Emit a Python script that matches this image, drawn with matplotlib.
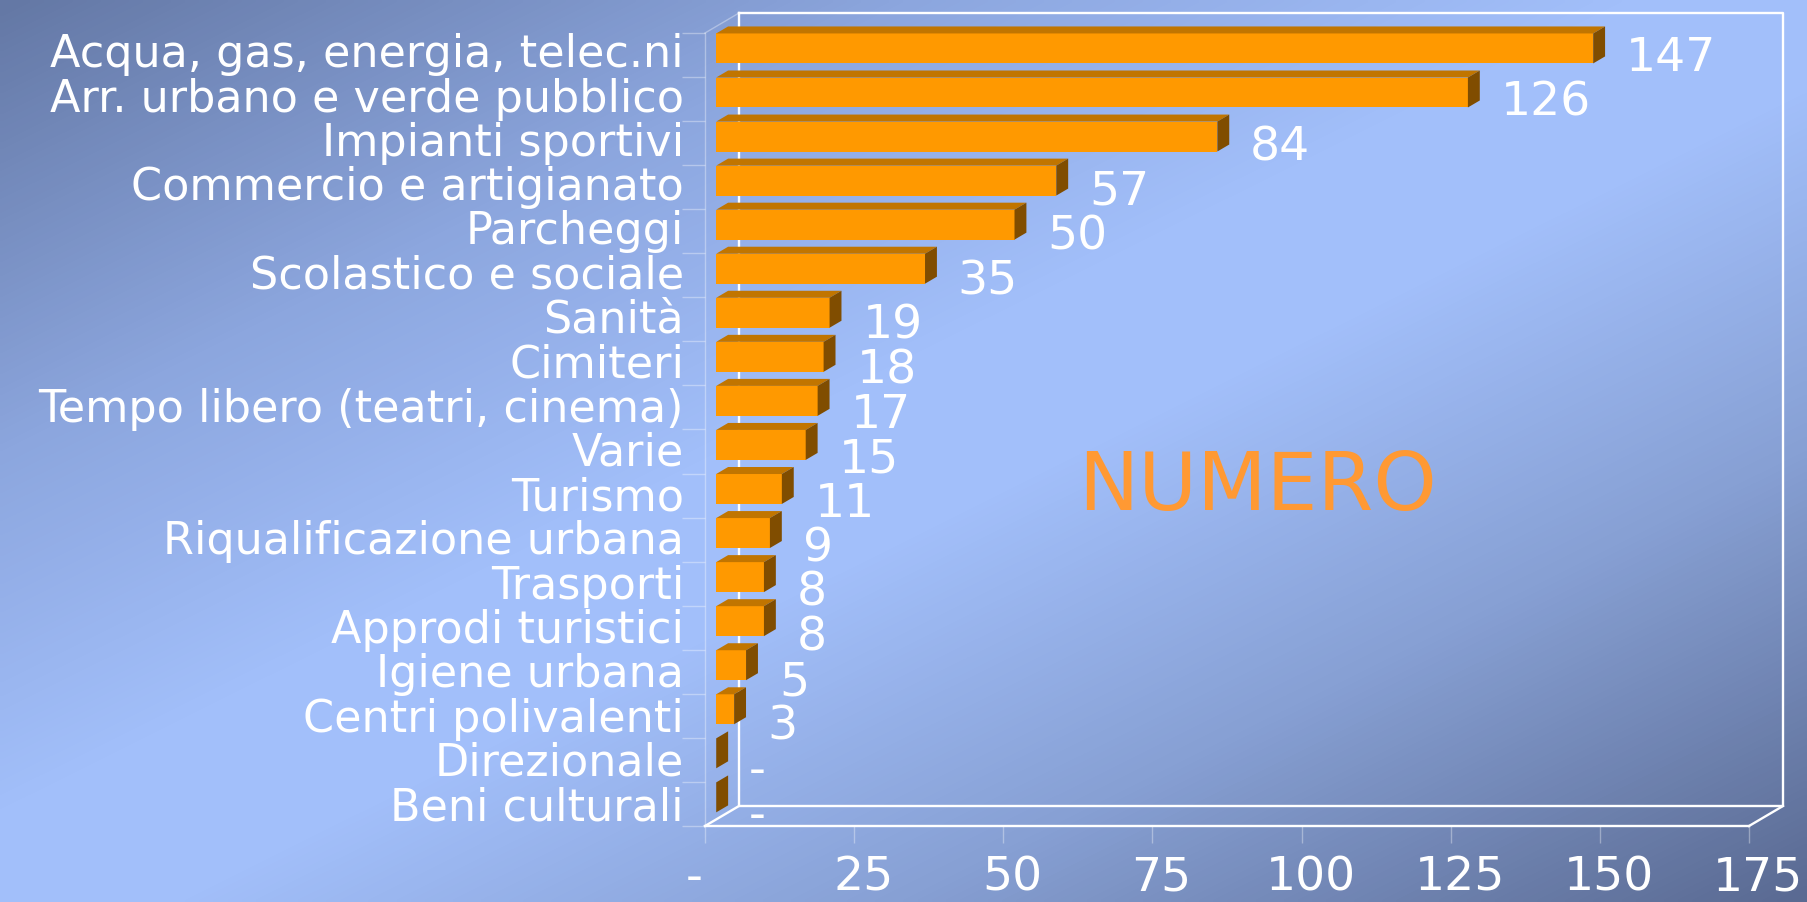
import numpy as np
import matplotlib
matplotlib.use("Agg")
import matplotlib.pyplot as plt
from matplotlib.patches import Polygon
from matplotlib.colors import LinearSegmentedColormap
from matplotlib.transforms import ScaledTranslation

# ---------------- data ----------------
categories = [
    "Acqua, gas, energia, telec.ni",
    "Arr. urbano e verde pubblico",
    "Impianti sportivi",
    "Commercio e artigianato",
    "Parcheggi",
    "Scolastico e sociale",
    "Sanità",
    "Cimiteri",
    "Tempo libero (teatri, cinema)",
    "Varie",
    "Turismo",
    "Riqualificazione urbana",
    "Trasporti",
    "Approdi turistici",
    "Igiene urbana",
    "Centri polivalenti",
    "Direzionale",
    "Beni culturali",
]
values = [147, 126, 84, 57, 50, 35, 19, 18, 17, 15, 11, 9, 8, 8, 5, 3, 0, 0]
x_ticks = [0, 25, 50, 75, 100, 125, 150, 175]
x_tick_labels = ["-", "25", "50", "75", "100", "125", "150", "175"]
series_name = "NUMERO"

# ---------------- style ----------------
W, H, DPI = 1807, 902, 100
plt.rcParams['font.family'] = ['DejaVu Sans']
FRONT = "#FF9900"
TOP = "#C17500"
SIDE = "#804D00"
WHITE = "white"
FAINT = (1, 1, 1, 0.35)

fig = plt.figure(figsize=(W / DPI, H / DPI), dpi=DPI)

# background gradient (diagonal)
bg = fig.add_axes([0, 0, 1, 1], zorder=-10)
bg.set_axis_off()
gx, gy = np.meshgrid(np.linspace(0, 1, 400), np.linspace(0, 1, 200))
t = (gx + gy) / 2.0
cmap = LinearSegmentedColormap.from_list("bg", [
    (0.00, (100 / 255, 120 / 255, 165 / 255)),
    (0.25, (140 / 255, 166 / 255, 222 / 255)),
    (0.45, (162 / 255, 191 / 255, 250 / 255)),
    (0.55, (162 / 255, 191 / 255, 250 / 255)),
    (0.75, (135 / 255, 160 / 255, 212 / 255)),
    (1.00, (90 / 255, 106 / 255, 146 / 255)),
])
bg.imshow(t, cmap=cmap, aspect="auto", extent=[0, 1, 0, 1], origin="upper",
          interpolation="bilinear")
bg.set_xlim(0, 1)
bg.set_ylim(0, 1)

# main axes = front plane of the 3D box
left_px, right_px, top_px, bottom_px = 705, 1749, 33, 826
ax = fig.add_axes([left_px / W, 1 - bottom_px / H,
                   (right_px - left_px) / W, (bottom_px - top_px) / H])
ax.patch.set_visible(False)
n = len(categories)
xmax = x_ticks[-1]
ax.set_xlim(0, xmax)
ax.set_ylim(n, 0)
for s in ax.spines.values():
    s.set_visible(False)

px_per_unit = (right_px - left_px) / xmax
px_per_row = (bottom_px - top_px) / n
DX = 34 / px_per_unit          # depth vector in data units
DY = -20 / px_per_row

# back wall + floor
lw = 1.7
bw_x = [DX, xmax + DX, xmax + DX, DX, DX]
bw_y = [DY, DY, n + DY, n + DY, DY]
ax.plot(bw_x, bw_y, color=WHITE, lw=lw, clip_on=False, zorder=1)
ax.plot([0, xmax], [n, n], color=WHITE, lw=lw, clip_on=False, zorder=1)
ax.plot([0, DX], [n, n + DY], color=WHITE, lw=lw, clip_on=False, zorder=1)
ax.plot([xmax, xmax + DX], [n, n + DY], color=WHITE, lw=lw, clip_on=False, zorder=1)
# faint left wall edges
ax.plot([0, 0], [0, n], color=FAINT, lw=1, clip_on=False, zorder=1)
ax.plot([0, DX], [0, DY], color=FAINT, lw=1, clip_on=False, zorder=1)

# ticks
ax.set_yticks(np.arange(0, n + 1))
ax.set_yticklabels([])
ax.tick_params(axis="y", direction="out", length=23 * 0.72, width=1, color=FAINT)
ax.set_xticks(x_ticks)
ax.set_xticklabels(x_tick_labels)
ax.tick_params(axis="x", direction="out", length=17 * 0.72, width=1, color=FAINT,
               labelsize=34, labelcolor=WHITE, pad=9)

# bars
f0, fb, bh = 0.33, 0.35, 0.68
x0 = f0 * DX
ys = np.arange(n) + 0.5 + f0 * DY
ax.barh(ys, values, left=x0, height=bh, color=FRONT, zorder=3, clip_on=False)
for i, v in enumerate(values):
    yt = ys[i] - bh / 2
    yb = ys[i] + bh / 2
    top = Polygon([(x0, yt), (x0 + v, yt), (x0 + v + fb * DX, yt + fb * DY),
                   (x0 + fb * DX, yt + fb * DY)], closed=True, color=TOP,
                  lw=0, zorder=3, clip_on=False)
    side = Polygon([(x0 + v, yt), (x0 + v + fb * DX, yt + fb * DY),
                    (x0 + v + fb * DX, yb + fb * DY), (x0 + v, yb)], closed=True,
                   color=SIDE, lw=0, zorder=3, clip_on=False)
    ax.add_patch(top)
    ax.add_patch(side)

# value labels
vsize = 34
vcap_pt = vsize * 0.729
for i, v in enumerate(values):
    label = "-" if v == 0 else str(v)
    drift_px = -1 + 0.5 * i
    ax.annotate(label, xy=(x0 + v + 5.5, i + 0.5),
                xytext=(0, -(vcap_pt / 2 + drift_px * 0.72)),
                textcoords="offset points", ha="left", va="baseline",
                color=WHITE, fontsize=vsize, zorder=5, annotation_clip=False)

# category labels
csize = 32
ccap_pt = csize * 0.729
for i, c in enumerate(categories):
    drift_px = -4 + 4 * i / (n - 1)
    ax.annotate(c, xy=(0, i + 0.5),
                xytext=(-21 * 0.72, -(ccap_pt / 2 + drift_px * 0.72)),
                textcoords="offset points", ha="right", va="baseline",
                color=WHITE, fontsize=csize, zorder=5, annotation_clip=False)

# series title inside chart
fig.text(1078 / W, 1 - 510 / H, series_name, color="#FF9933", fontsize=58,
         ha="left", va="baseline")

# shift x tick labels like the original
labs = ax.get_xticklabels()
for k, lab in enumerate(labs):
    dx_in = (-11 if k == 0 else 9) / DPI
    lab.set_transform(lab.get_transform() + ScaledTranslation(dx_in, 0, fig.dpi_scale_trans))

fig.savefig("out.png", dpi=DPI)
